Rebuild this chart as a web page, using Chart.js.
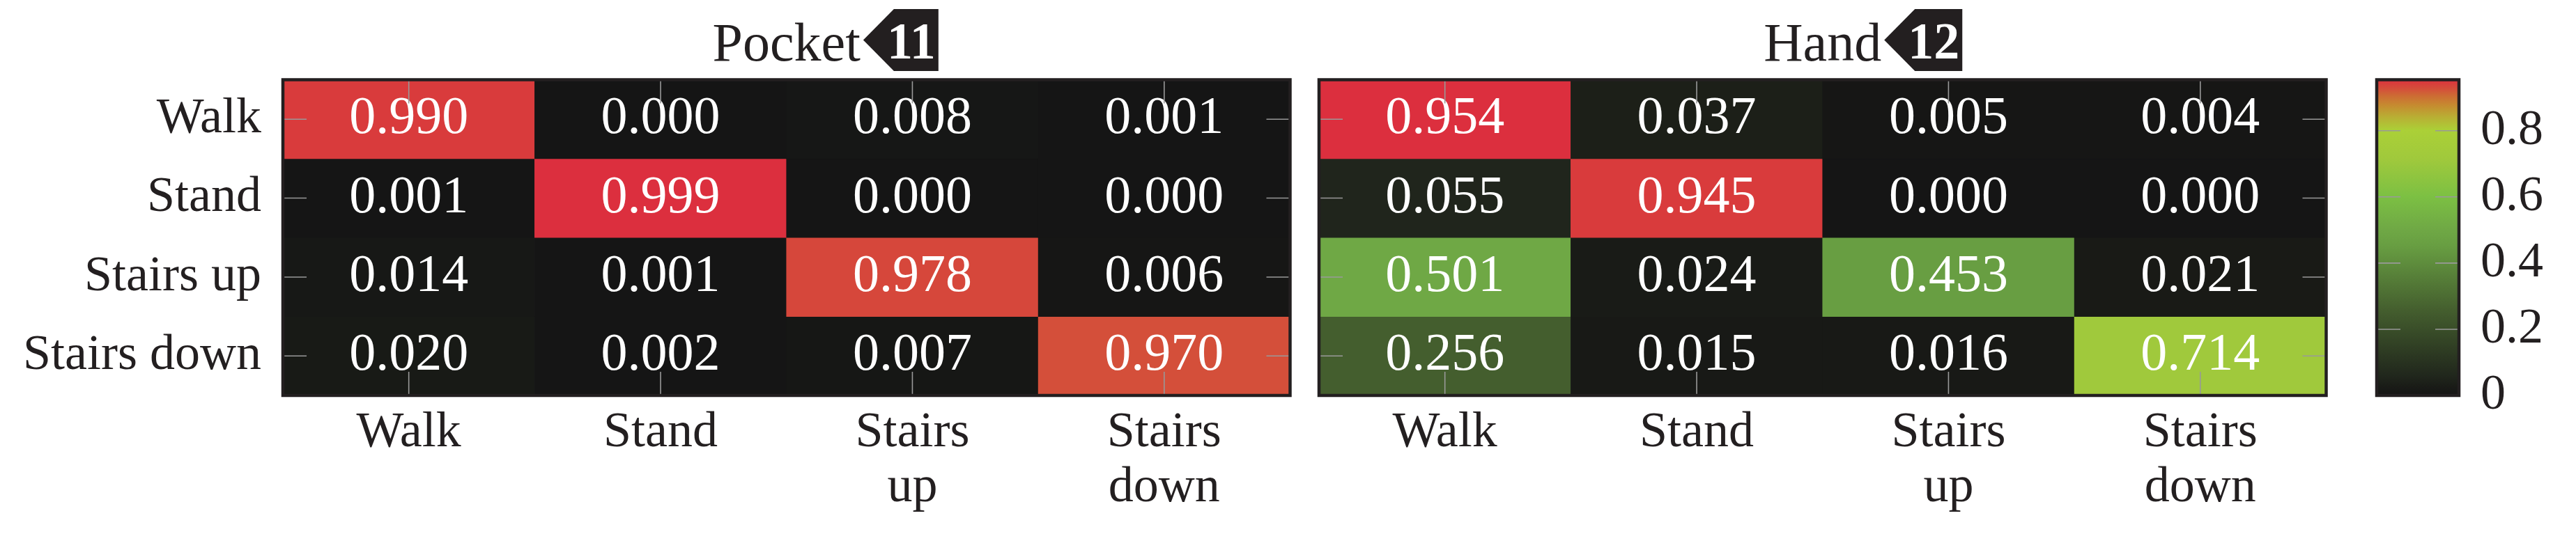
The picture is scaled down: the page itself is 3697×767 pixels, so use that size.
<!DOCTYPE html>
<html>
<head>
<meta charset="utf-8">
<script src="https://cdn.jsdelivr.net/npm/chart.js@4.4.0/dist/chart.umd.min.js"></script>
<style>
  body { margin: 0; background: #fff; }
  #wrap { position: relative; width: 3697px; height: 767px; overflow: hidden; }
  #wrap canvas { position: absolute; top: 0; }
</style>
</head>
<body>
<div id="wrap">
  <canvas id="pocketChart" width="1872" height="767" style="left:0px"></canvas>
  <canvas id="handChart" width="1508" height="767" style="left:1872px"></canvas>
  <canvas id="scaleChart" width="317" height="767" style="left:3380px"></canvas>
</div>
<script>
// confusion matrices (rows = true class, cols = predicted)
var colLabels = ['Walk', 'Stand', ['Stairs', 'up'], ['Stairs', 'down']];
var rowLabels = ['Walk', 'Stand', 'Stairs up', 'Stairs down'];

var pocketValues = [
    [0.990, 0.000, 0.008, 0.001],
    [0.001, 0.999, 0.000, 0.000],
    [0.014, 0.001, 0.978, 0.006],
    [0.020, 0.002, 0.007, 0.970]
];
var handValues = [
    [0.954, 0.037, 0.005, 0.004],
    [0.055, 0.945, 0.000, 0.000],
    [0.501, 0.024, 0.453, 0.021],
    [0.256, 0.015, 0.016, 0.714]
];
var scaleTicks = [0, 0.2, 0.4, 0.6, 0.8];

Chart.defaults.font.family = '"Liberation Serif", serif';
Chart.defaults.color = '#231f20';

// black -> green -> yellow-green -> red
var cmapStops = [
    [0.00, '#151515'],
    [0.03, '#1a1c17'],
    [0.06, '#20261c'],
    [0.27, '#445e2e'],
    [0.475, '#689e42'],
    [0.525, '#6fa845'],
    [0.63, '#7cc043'],
    [0.75, '#a0c93c'],
    [0.84, '#abd037'],
    [0.88, '#b8b034'],
    [0.92, '#c68a30'],
    [0.95, '#cd6a34'],
    [0.97, '#d4503a'],
    [0.99, '#d93c3c'],
    [1.00, '#dc2f3e']
];

function hexRgb(h) {
    return [parseInt(h.substr(1, 2), 16), parseInt(h.substr(3, 2), 16), parseInt(h.substr(5, 2), 16)];
}

function cmap(t) {
    t = Math.max(0, Math.min(1, t));
    for (var i = 1; i < cmapStops.length; i++) {
        if (t <= cmapStops[i][0]) {
            var a = cmapStops[i - 1], b = cmapStops[i];
            var f = (t - a[0]) / (b[0] - a[0]);
            var ca = hexRgb(a[1]), cb = hexRgb(b[1]);
            var c = ca.map(function(v, k) { return Math.round(v + (cb[k] - v) * f); });
            return 'rgb(' + c.join(',') + ')';
        }
    }
    return cmapStops[cmapStops.length - 1][1];
}

function maxOf(m) {
    return Math.max.apply(null, m.map(function(r) { return Math.max.apply(null, r); }));
}

var scaleMax = maxOf(handValues);

var panelDecor = {
    id: 'panelDecor',
    afterDatasetsDraw: function(chart, args, opts) {
        var ctx = chart.ctx, a = chart.chartArea;
        var xs = chart.scales.x, ys = chart.scales.y;
        ctx.save();

        if (opts.showValues) {
            ctx.fillStyle = '#ffffff';
            ctx.font = '76px "Liberation Serif"';
            ctx.textAlign = 'center';
            ctx.textBaseline = 'middle';
            chart.data.datasets.forEach(function(ds, i) {
                chart.getDatasetMeta(i).data.forEach(function(bar, j) {
                    ctx.fillText(ds.values[j].toFixed(3), bar.x, (bar.y + bar.base) / 2);
                });
            });
        }

        // inside tick marks
        ctx.strokeStyle = '#999999';
        ctx.lineWidth = 1.6;
        ctx.beginPath();
        (opts.xTicks || []).forEach(function(v) {
            var px = xs.getPixelForValue(v);
            ctx.moveTo(px, a.top); ctx.lineTo(px, a.top + 34);
            ctx.moveTo(px, a.bottom); ctx.lineTo(px, a.bottom - 34);
        });
        (opts.yTicks || []).forEach(function(v) {
            var py = ys.getPixelForValue(v);
            ctx.moveTo(a.left, py); ctx.lineTo(a.left + 34, py);
            ctx.moveTo(a.right, py); ctx.lineTo(a.right - 34, py);
        });
        ctx.stroke();

        // frame
        ctx.strokeStyle = '#231f20';
        ctx.lineWidth = 4.5;
        ctx.strokeRect(a.left, a.top, a.right - a.left, a.bottom - a.top);

        // title with number tag
        if (opts.title) {
            var cx = (a.left + a.right) / 2;
            ctx.fillStyle = '#231f20';
            ctx.font = '78px "Liberation Serif"';
            ctx.textAlign = 'center';
            ctx.textBaseline = 'alphabetic';
            ctx.fillText(opts.title, cx, 87);
            var tw = ctx.measureText(opts.title).width;
            var x0 = cx + tw / 2 + 4;
            ctx.font = 'bold 74px "Liberation Serif"';
            var bw = ctx.measureText(opts.badge).width;
            var xr = x0 + 34 + bw + 4;
            ctx.beginPath();
            ctx.moveTo(x0, 57.5);
            ctx.lineTo(x0 + 44, 13);
            ctx.lineTo(xr, 13);
            ctx.lineTo(xr, 102);
            ctx.lineTo(x0 + 44, 102);
            ctx.closePath();
            ctx.fill();
            ctx.fillStyle = '#ffffff';
            ctx.textAlign = 'left';
            ctx.fillText(opts.badge, x0 + 34, 84);
        }
        ctx.restore();
    }
};

function matrixChart(id, matrix, title, badge, showRows, pad) {
    var max = maxOf(matrix);
    var datasets = matrix.map(function(row, r) {
        return {
            data: row.map(function() { return [r, r + 1]; }),
            values: row,
            backgroundColor: row.map(function(v) { return cmap(v / max); }),
            borderWidth: 0,
            grouped: false,
            barPercentage: 1,
            categoryPercentage: 1
        };
    });
    return new Chart(document.getElementById(id), {
        type: 'bar',
        data: { labels: colLabels, datasets: datasets },
        options: {
            responsive: false,
            animation: false,
            layout: { padding: pad },
            plugins: {
                legend: { display: false },
                tooltip: { enabled: false },
                panelDecor: { showValues: true, title: title, badge: badge, xTicks: [0, 1, 2, 3], yTicks: [0.5, 1.5, 2.5, 3.5] }
            },
            scales: {
                x: {
                    type: 'category',
                    grid: { display: false, drawTicks: false },
                    border: { display: false },
                    ticks: { font: { size: 72, lineHeight: 1.1 }, padding: 14, maxRotation: 0, autoSkip: false },
                    afterFit: function(s) { s.height = 199; }
                },
                y: {
                    type: 'linear',
                    min: 0,
                    max: 4,
                    reverse: true,
                    grid: { display: false, drawTicks: false },
                    border: { display: false },
                    afterBuildTicks: function(s) {
                        s.ticks = [0.5, 1.5, 2.5, 3.5].map(function(v) { return { value: v }; });
                    },
                    ticks: {
                        display: showRows,
                        font: { size: 72 },
                        padding: 31,
                        autoSkip: false,
                        callback: function(v, i) { return rowLabels[i]; }
                    },
                    afterFit: function(s) { s.width = showRows ? 406 : 0; }
                }
            }
        },
        plugins: [panelDecor]
    });
}

matrixChart('pocketChart', pocketValues, 'Pocket', '11', true, { left: 0, top: 114.5, right: 20.5, bottom: 0 });
matrixChart('handChart', handValues, 'Hand', '12', false, { left: 21, top: 114.5, right: 41.5, bottom: 0 });

// colour scale
new Chart(document.getElementById('scaleChart'), {
    type: 'bar',
    data: {
        labels: [''],
        datasets: [{
            data: [[0, scaleMax]],
            borderWidth: 0,
            barPercentage: 1,
            categoryPercentage: 1,
            backgroundColor: function(c) {
                var chart = c.chart;
                if (!chart.chartArea) return cmap(0);
                var ys = chart.scales.y;
                var g = chart.ctx.createLinearGradient(0, ys.getPixelForValue(0), 0, ys.getPixelForValue(scaleMax));
                cmapStops.forEach(function(s) { g.addColorStop(s[0], s[1]); });
                return g;
            }
        }]
    },
    options: {
        responsive: false,
        animation: false,
        layout: { padding: { left: 31, top: 114.5, right: 0, bottom: 199 } },
        plugins: {
            legend: { display: false },
            tooltip: { enabled: false },
            panelDecor: { showValues: false, yTicks: scaleTicks.slice(1) }
        },
        scales: {
            x: { display: false },
            y: {
                type: 'linear',
                position: 'right',
                min: 0,
                max: scaleMax,
                grid: { display: false, drawTicks: false },
                border: { display: false },
                afterBuildTicks: function(s) {
                    s.ticks = scaleTicks.map(function(v) { return { value: v }; });
                },
                ticks: {
                    font: { size: 72 },
                    padding: 31,
                    callback: function(v) { return String(v); }
                },
                afterFit: function(s) { s.width = 168; }
            }
        }
    },
    plugins: [panelDecor]
});
</script>
</body>
</html>
